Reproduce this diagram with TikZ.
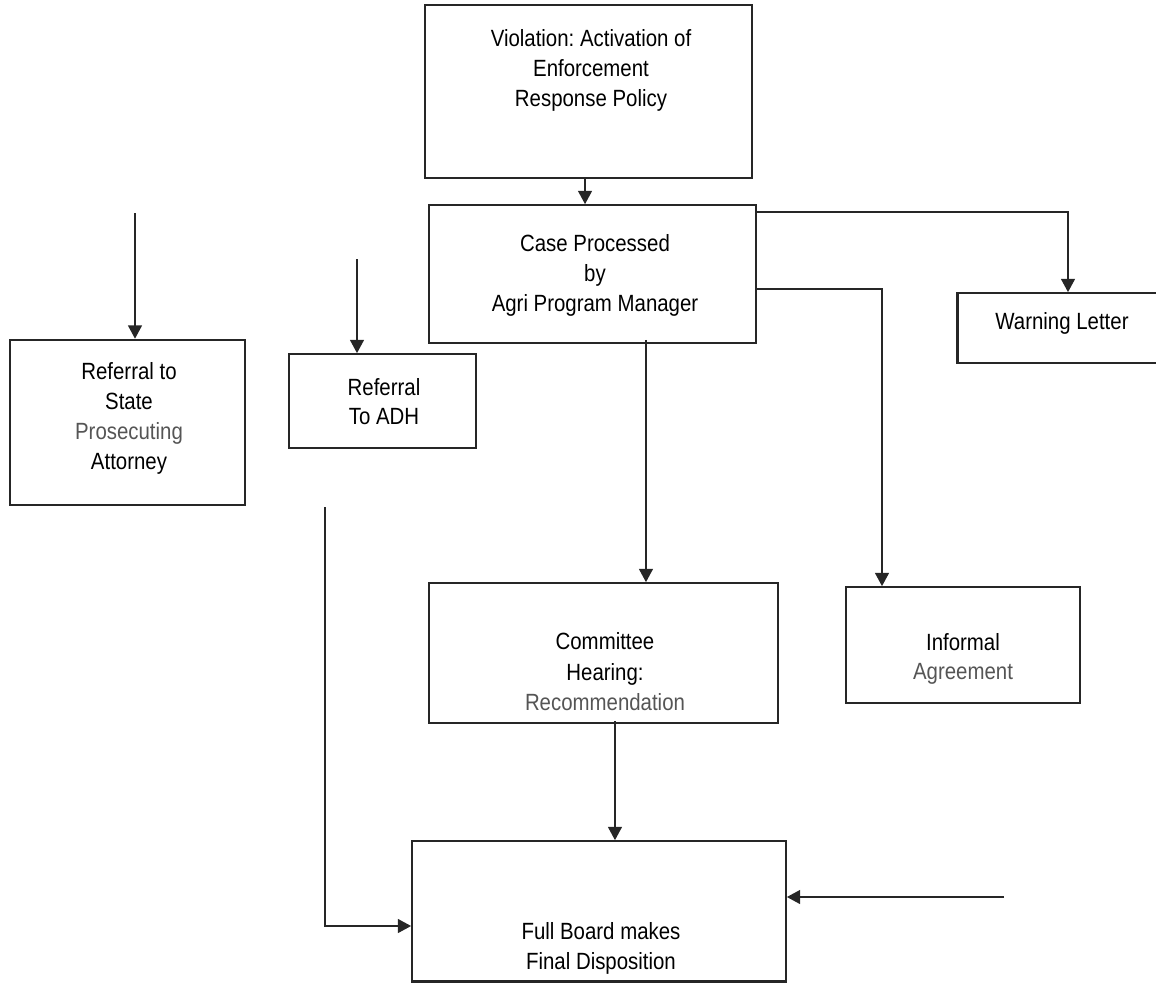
\documentclass[tikz,border=0pt]{standalone}
\usepackage{fontspec}
\setmainfont{Liberation Sans}[FakeStretch=0.87]
\usetikzlibrary{arrows.meta}
\definecolor{greytext}{HTML}{555555}
\frenchspacing
\tikzset{
  box/.style={draw=black!85, line width=1.3pt, rectangle, inner sep=0pt, fill=none},
  thickbox/.style={box, line width=2pt},
  lbl/.style={align=center, inner sep=0pt, font=\fontsize{17.6}{22.5}\selectfont},
  arr/.style={draw=black!85, line width=1.1pt, -{Triangle[length=10pt,width=10.5pt]}},
  ln/.style={draw=black!85, line width=1.1pt}
}
\begin{document}
\begin{tikzpicture}[x=0.75pt,y=-0.75pt]
\useasboundingbox (0,0) rectangle (1156,983);
% boxes
\node[box, minimum width=245.25pt, minimum height=129.75pt] (top) at (588.5,91.5) {};
\node[box, minimum width=245.25pt, minimum height=103.5pt] (case) at (592.5,274) {};
\node[thickbox, minimum width=176.25pt, minimum height=123.75pt] (rs) at (127.5,422.5) {};
\node[box, minimum width=140.25pt, minimum height=70.5pt] (adh) at (382.5,401) {};
\node[box, minimum width=151.5pt, minimum height=52.5pt] (warn) at (1059,328) {};
\node[box, minimum width=175.5pt, minimum height=87pt] (inf) at (963,645) {};
\node[box, minimum width=261.75pt, minimum height=105pt] (comm) at (603.5,653) {};
\node[box, minimum width=280.5pt, minimum height=105pt] (full) at (599,911) {};
% extra heavy edges
\draw[line width=2.2pt, black!85] (warn.north west) -- (warn.south west);
\draw[line width=2.4pt, black!85] (full.south west) -- (full.south east);
% texts
\node[lbl] (topT) at (591,70) {Violation: Activation of\\Enforcement\\Response Policy};
\node[lbl] (caseT) at (595,275) {Case Processed\\by\\Agri Program Manager};
\node[lbl] (rsT) at (129,418) {Referral to\\State\\\textcolor{greytext}{Prosecuting}\\Attorney};
\node[lbl, font=\fontsize{17.6}{21.75}\selectfont] (adhT) at (384,402) {Referral\\To ADH};
\node[lbl] (warnT) at (1062,323) {Warning Letter};
\node[lbl, font=\fontsize{17.6}{21.75}\selectfont] (infT) at (963,659) {Informal\\\textcolor{greytext}{Agreement}};
\node[lbl, font=\fontsize{17.6}{22.9}\selectfont] (commT) at (605,672) {Committee\\Hearing:\\\textcolor{greytext}{Recommendation}};
\node[lbl] (fullT) at (601,948) {Full Board makes\\Final Disposition};
% connectors
\draw[arr] ([xshift=-2.6pt]top.south) -- ([xshift=-2.6pt]top.south |- case.north);
\draw[arr] ([yshift=-6pt]case.north east) -| ([xshift=6.75pt]warn.north);
\draw[arr] ([yshift=-63.75pt]case.north east) -| ([xshift=-60.75pt]inf.north);
\draw[arr] ([xshift=40.1pt,yshift=3pt]case.south) -- ([xshift=40.1pt]case.south |- comm.north);
\draw[arr] ([xshift=8.6pt,yshift=2pt]comm.south) -- ([xshift=8.6pt]comm.south |- full.north);
% free-ended connectors
\coordinate (s1) at (135,213);
\coordinate (s2) at (357,259);
\coordinate (s3) at (325,507);
\coordinate (s4) at (1004,897);
\draw[arr] (s1) -- (s1 |- rs.north);
\draw[arr] (s2) -- (s2 |- adh.north);
\draw[arr] (s3) |- ([yshift=-11.25pt]full.west);
\draw[arr] (s4) -- (s4 -| full.east);
\end{tikzpicture}
\end{document}
